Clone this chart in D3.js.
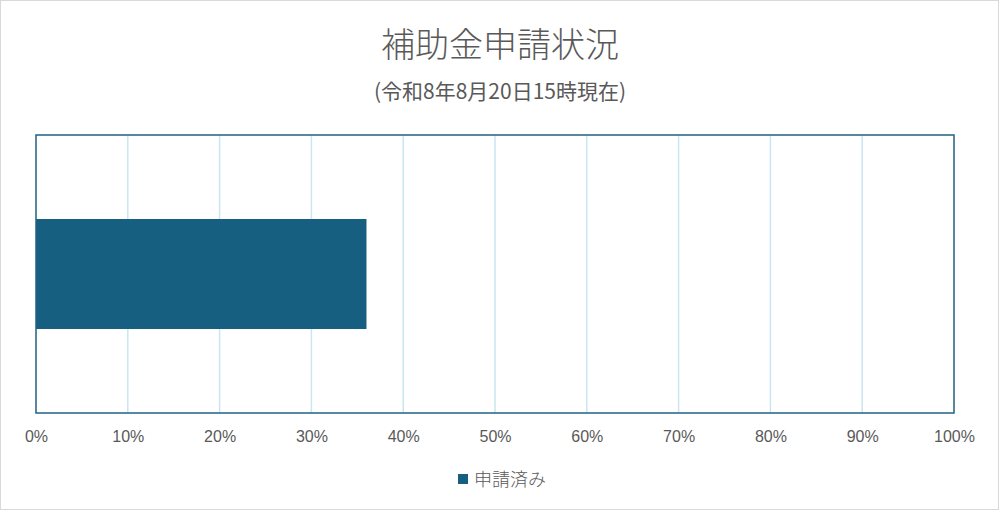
<!DOCTYPE html>
<html>
<head>
<meta charset="utf-8">
<script src="https://cdn.jsdelivr.net/npm/d3@7"></script>
<style>
  body { margin: 0; background: #fff; }
  text { font-family: "Liberation Sans", "Noto Sans CJK JP", sans-serif; fill: #595959; }
  .jp { font-family: "Noto Sans CJK JP", sans-serif; }
</style>
</head>
<body>
<div id="base"></div>
<script>
// chart data
var categories = ["申請状況"];
var seriesName = "申請済み";
var values = [0.36];
var xTicks = [0, 0.1, 0.2, 0.3, 0.4, 0.5, 0.6, 0.7, 0.8, 0.9, 1.0];
var titleText = "補助金申請状況";
var subtitleText = "(令和8年8月20日15時現在)";

// look
var barColor = "#175f80";
var gridColor = "#c9e6f2";
var frameColor = "#1f6383";

const width = 1000;
const height = 511;
const margin = {top: 135, right: 46, bottom: 98, left: 36};

const svg = d3.select("#base").append("svg")
    .attr("width", width)
    .attr("height", height);

// outer chart border
svg.append("rect")
    .attr("x", 0.5).attr("y", 0.5)
    .attr("width", width - 2).attr("height", height - 2)
    .attr("fill", "#fff")
    .attr("stroke", "#d9d9d9");

const x = d3.scaleLinear()
    .domain([0, 1])
    .range([margin.left, width - margin.right]);

const y = d3.scaleBand()
    .domain(categories)
    .range([margin.top, height - margin.bottom])
    .padding(0.433);

// gridlines
svg.append("g")
  .selectAll("line")
  .data(xTicks.slice(1, -1))
  .join("line")
    .attr("x1", d => x(d)).attr("x2", d => x(d))
    .attr("y1", margin.top).attr("y2", height - margin.bottom)
    .attr("stroke", gridColor)
    .attr("stroke-width", 1.5);

// bar
svg.append("g")
  .selectAll("rect")
  .data(values)
  .join("rect")
    .attr("x", x(0))
    .attr("y", (d, i) => y(categories[i]))
    .attr("width", d => x(d) - x(0))
    .attr("height", y.bandwidth())
    .attr("fill", barColor);

// plot frame
svg.append("rect")
    .attr("x", x(0)).attr("y", margin.top)
    .attr("width", x(1) - x(0))
    .attr("height", height - margin.bottom - margin.top)
    .attr("fill", "none")
    .attr("stroke", frameColor)
    .attr("stroke-width", 1.5);

// x axis labels
const xAxis = svg.append("g")
    .attr("transform", `translate(0,${height - margin.bottom})`)
    .call(d3.axisBottom(x).tickValues(xTicks).tickFormat(d3.format(".0%")).tickSize(0).tickPadding(18));
xAxis.select(".domain").remove();
xAxis.selectAll("text")
    .attr("font-size", 16)
    .attr("fill", "#595959")
    .style("font-family", "'Liberation Sans', sans-serif");

// titles
svg.append("text")
    .attr("class", "jp")
    .attr("x", width / 2).attr("y", 57)
    .attr("text-anchor", "middle")
    .attr("font-size", 34)
    .attr("font-weight", 300)
    .text(titleText);

svg.append("text")
    .attr("class", "jp")
    .attr("x", width / 2).attr("y", 99)
    .attr("text-anchor", "middle")
    .attr("font-size", 21)
    .text(subtitleText);

// legend
const legend = svg.append("g").attr("transform", "translate(458,474)");
legend.append("rect")
    .attr("width", 10).attr("height", 10)
    .attr("fill", barColor);
legend.append("text")
    .attr("class", "jp")
    .attr("x", 16).attr("y", 11.5)
    .attr("font-size", 18)
    .attr("font-weight", 300)
    .text(seriesName);
</script>
</body>
</html>
